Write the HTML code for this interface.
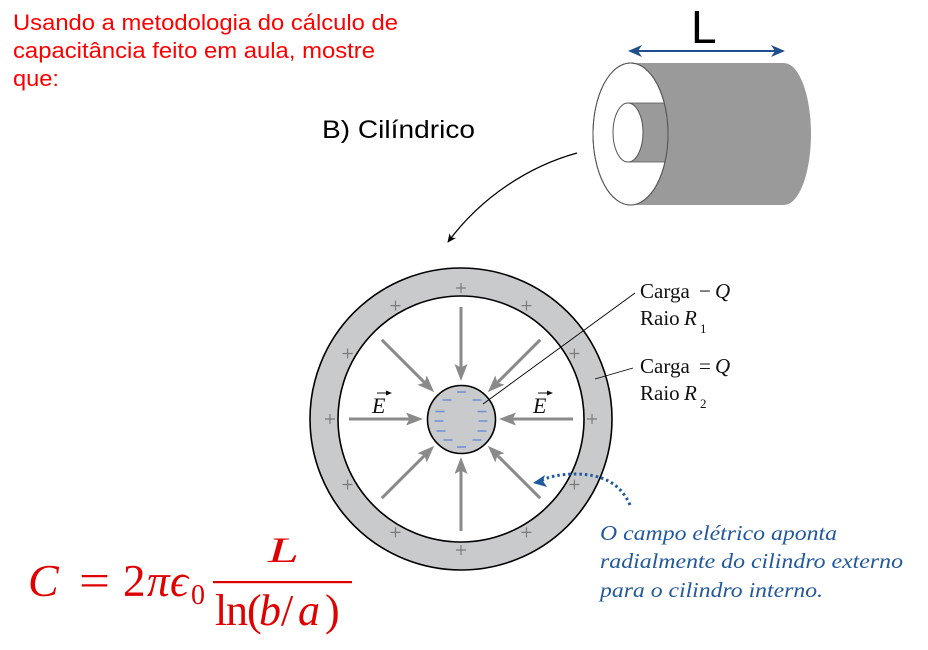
<!DOCTYPE html>
<html>
<head>
<meta charset="utf-8">
<style>
html,body{margin:0;padding:0;background:#fff;}
svg{display:block;}
</style>
</head>
<body>
<svg width="928" height="650" viewBox="0 0 928 650" xmlns="http://www.w3.org/2000/svg">
<defs>
  <marker id="blk" markerWidth="10" markerHeight="10" refX="8" refY="5" orient="auto" markerUnits="userSpaceOnUse">
    <path d="M0,1 L9,5 L0,9 L2.5,5 Z" fill="#000"/>
  </marker>
  <clipPath id="frontClip"><ellipse cx="630.5" cy="134" rx="37.5" ry="71"/></clipPath>
</defs>
<rect width="928" height="650" fill="#fff"/>

<!-- Top-left red text -->
<g font-family="Liberation Sans, Arial, sans-serif" font-size="22" fill="#ff0000">
  <text x="13" y="30" textLength="385" lengthAdjust="spacingAndGlyphs">Usando a metodologia do cálculo de</text>
  <text x="13" y="58" textLength="362" lengthAdjust="spacingAndGlyphs">capacitância feito em aula, mostre</text>
  <text x="13" y="86" textLength="46" lengthAdjust="spacingAndGlyphs">que:</text>
</g>

<!-- B) Cilíndrico -->
<text x="322" y="138" font-family="Liberation Sans, Arial, sans-serif" font-size="25" fill="#000" textLength="153" lengthAdjust="spacingAndGlyphs">B) Cilíndrico</text>

<!-- Curved black arrow -->
<path d="M577,153 C530,166 482,196 448,242" fill="none" stroke="#000" stroke-width="1.3" marker-end="url(#blk)"/>

<!-- Cylinder -->
<path d="M630,63 L784,63 A27,71 0 0 1 784,205 L630,205 Z" fill="#9a9a9a"/>
<ellipse cx="630.5" cy="134" rx="37.5" ry="71" fill="#fff" stroke="#555" stroke-width="1"/>
<g clip-path="url(#frontClip)">
  <rect x="628" y="103" width="42" height="59" fill="#9a9a9a"/>
  <line x1="628" y1="103" x2="670" y2="103" stroke="#555" stroke-width="0.8"/>
  <line x1="628" y1="162" x2="670" y2="162" stroke="#555" stroke-width="0.8"/>
</g>
<ellipse cx="628" cy="132.5" rx="15" ry="29.5" fill="#fff" stroke="#555" stroke-width="1"/>
<ellipse cx="630.5" cy="134" rx="37.5" ry="71" fill="none" stroke="#555" stroke-width="1"/>

<!-- L and double arrow -->
<text x="691" y="43" font-family="Liberation Sans, Arial, sans-serif" font-size="46" fill="#000">L</text>
<line x1="632" y1="51" x2="781" y2="51" stroke="#1f4e8c" stroke-width="2"/>
<polygon points="628,51 642,45 638,51 642,57" fill="#1f4e8c"/>
<polygon points="785,51 771,45 775,51 771,57" fill="#1f4e8c"/>

<!-- Ring -->
<circle cx="461" cy="419" r="151" fill="#c9cacc" stroke="#000" stroke-width="1.6"/>
<circle cx="461" cy="419" r="123" fill="#fff" stroke="#000" stroke-width="1.6"/>

<!-- Plus signs -->
<g stroke="#7a7a7a" stroke-width="1.2">
  <path d="M587,419h10M592,414v10"/>
  <path d="M569.4,353.5h10M574.4,348.5v10"/>
  <path d="M521.5,305.6h10M526.5,300.6v10"/>
  <path d="M456,288h10M461,283v10"/>
  <path d="M390.5,305.6h10M395.5,300.6v10"/>
  <path d="M342.6,353.5h10M347.6,348.5v10"/>
  <path d="M325,419h10M330,414v10"/>
  <path d="M342.6,484.5h10M347.6,479.5v10"/>
  <path d="M390.5,532.4h10M395.5,527.4v10"/>
  <path d="M456,550h10M461,545v10"/>
  <path d="M521.5,532.4h10M526.5,527.4v10"/>
  <path d="M569.4,484.5h10M574.4,479.5v10"/>
</g>

<!-- Field arrows -->
<g fill="#8a8a8a" stroke="#8a8a8a">
  <g transform="rotate(0 461 419)"><line x1="461" y1="307" x2="461" y2="370" stroke-width="3"/><polygon points="461,381 454.5,364 461,367.5 467.5,364" stroke="none"/></g>
  <g transform="rotate(45 461 419)"><line x1="461" y1="307" x2="461" y2="370" stroke-width="3"/><polygon points="461,381 454.5,364 461,367.5 467.5,364" stroke="none"/></g>
  <g transform="rotate(90 461 419)"><line x1="461" y1="307" x2="461" y2="370" stroke-width="3"/><polygon points="461,381 454.5,364 461,367.5 467.5,364" stroke="none"/></g>
  <g transform="rotate(135 461 419)"><line x1="461" y1="307" x2="461" y2="370" stroke-width="3"/><polygon points="461,381 454.5,364 461,367.5 467.5,364" stroke="none"/></g>
  <g transform="rotate(180 461 419)"><line x1="461" y1="307" x2="461" y2="370" stroke-width="3"/><polygon points="461,381 454.5,364 461,367.5 467.5,364" stroke="none"/></g>
  <g transform="rotate(225 461 419)"><line x1="461" y1="307" x2="461" y2="370" stroke-width="3"/><polygon points="461,381 454.5,364 461,367.5 467.5,364" stroke="none"/></g>
  <g transform="rotate(270 461 419)"><line x1="461" y1="307" x2="461" y2="370" stroke-width="3"/><polygon points="461,381 454.5,364 461,367.5 467.5,364" stroke="none"/></g>
  <g transform="rotate(315 461 419)"><line x1="461" y1="307" x2="461" y2="370" stroke-width="3"/><polygon points="461,381 454.5,364 461,367.5 467.5,364" stroke="none"/></g>
</g>

<!-- Inner cylinder -->
<circle cx="461.5" cy="419.5" r="34" fill="#c9cacc" stroke="#000" stroke-width="1.6"/>
<g stroke="#6f8fd6" stroke-width="1.6">
  <path d="M457,392h9"/>
  <path d="M442.5,400h9M472.5,400h9"/>
  <path d="M435.5,411.5h9M477.5,411.5h9"/>
  <path d="M434.5,421h9M478.5,421h9"/>
  <path d="M436.5,431h9M477.5,431h9"/>
  <path d="M443.5,440h9M472.5,440h9"/>
  <path d="M457,447h9"/>
</g>

<!-- E vectors -->
<g font-family="Liberation Serif, 'Times New Roman', serif" font-style="italic" font-size="22" fill="#111">
  <text x="372" y="413">E</text>
  <text x="533" y="413">E</text>
</g>
<g stroke="#111" stroke-width="1" fill="#111">
  <line x1="377" y1="393" x2="389" y2="393"/><polygon points="392,393 386,390.5 386,395.5" stroke="none"/>
  <line x1="538" y1="393" x2="550" y2="393"/><polygon points="553,393 547,390.5 547,395.5" stroke="none"/>
</g>

<!-- Leader lines -->
<line x1="483" y1="404" x2="635" y2="293" stroke="#000" stroke-width="0.9"/>
<line x1="595" y1="379" x2="633" y2="368" stroke="#000" stroke-width="0.9"/>

<!-- Labels -->
<g font-family="Liberation Serif, 'Times New Roman', serif" font-size="21" fill="#111">
  <text x="640" y="298">Carga</text>
  <text x="699" y="298">−</text>
  <text x="715" y="298" font-style="italic">Q</text>
  <text x="640" y="325">Raio</text>
  <text x="684" y="325" font-style="italic">R</text>
  <text x="700" y="333" font-size="13">1</text>
  <text x="640" y="373">Carga</text>
  <text x="699" y="373">=</text>
  <text x="715" y="373" font-style="italic">Q</text>
  <text x="640" y="400">Raio</text>
  <text x="684" y="400" font-style="italic">R</text>
  <text x="700" y="408" font-size="13">2</text>
</g>

<!-- Dotted blue arrow -->
<path d="M630,505 C620,482 600,474 575,474 C560,474 548,477 540,481" fill="none" stroke="#1f5aa0" stroke-width="3" stroke-dasharray="2.5 3"/>
<polygon points="533,483 545,475 543,481 547,487" fill="#1f5aa0"/>

<!-- Blue italic text -->
<g font-family="Liberation Serif, 'Times New Roman', serif" font-style="italic" font-size="21" fill="#22589c">
  <text x="600" y="540" textLength="237" lengthAdjust="spacingAndGlyphs">O campo elétrico aponta</text>
  <text x="600" y="568" textLength="303" lengthAdjust="spacingAndGlyphs">radialmente do cilindro externo</text>
  <text x="600" y="597" textLength="223" lengthAdjust="spacingAndGlyphs">para o cilindro interno.</text>
</g>

<!-- Formula -->
<g font-family="Liberation Serif, 'Times New Roman', serif" fill="#e00000">
  <text x="28" y="596" font-size="46" font-style="italic">C</text>
  <text x="79" y="596" font-size="45" textLength="31" lengthAdjust="spacingAndGlyphs">=</text>
  <text x="123" y="596" font-size="45">2</text>
  <text x="147" y="596" font-size="45" font-style="italic">π</text>
  <text x="170" y="596" font-size="45" font-style="italic">ϵ</text>
  <text x="191" y="604" font-size="28">0</text>
  <text x="268" y="562" font-size="36" font-style="italic" textLength="31" lengthAdjust="spacingAndGlyphs">L</text>
  <rect x="213" y="581" width="139" height="2.2" fill="#e00000"/>
  <text x="215" y="625" font-size="44">l</text>
  <text x="226" y="625" font-size="44">n</text>
  <text x="247" y="625" font-size="44">(</text>
  <text x="259" y="625" font-size="44" font-style="italic">b</text>
  <text x="281" y="625" font-size="44">/</text>
  <text x="298" y="625" font-size="44" font-style="italic">a</text>
  <text x="325" y="625" font-size="44">)</text>
</g>
</svg>
</body>
</html>
